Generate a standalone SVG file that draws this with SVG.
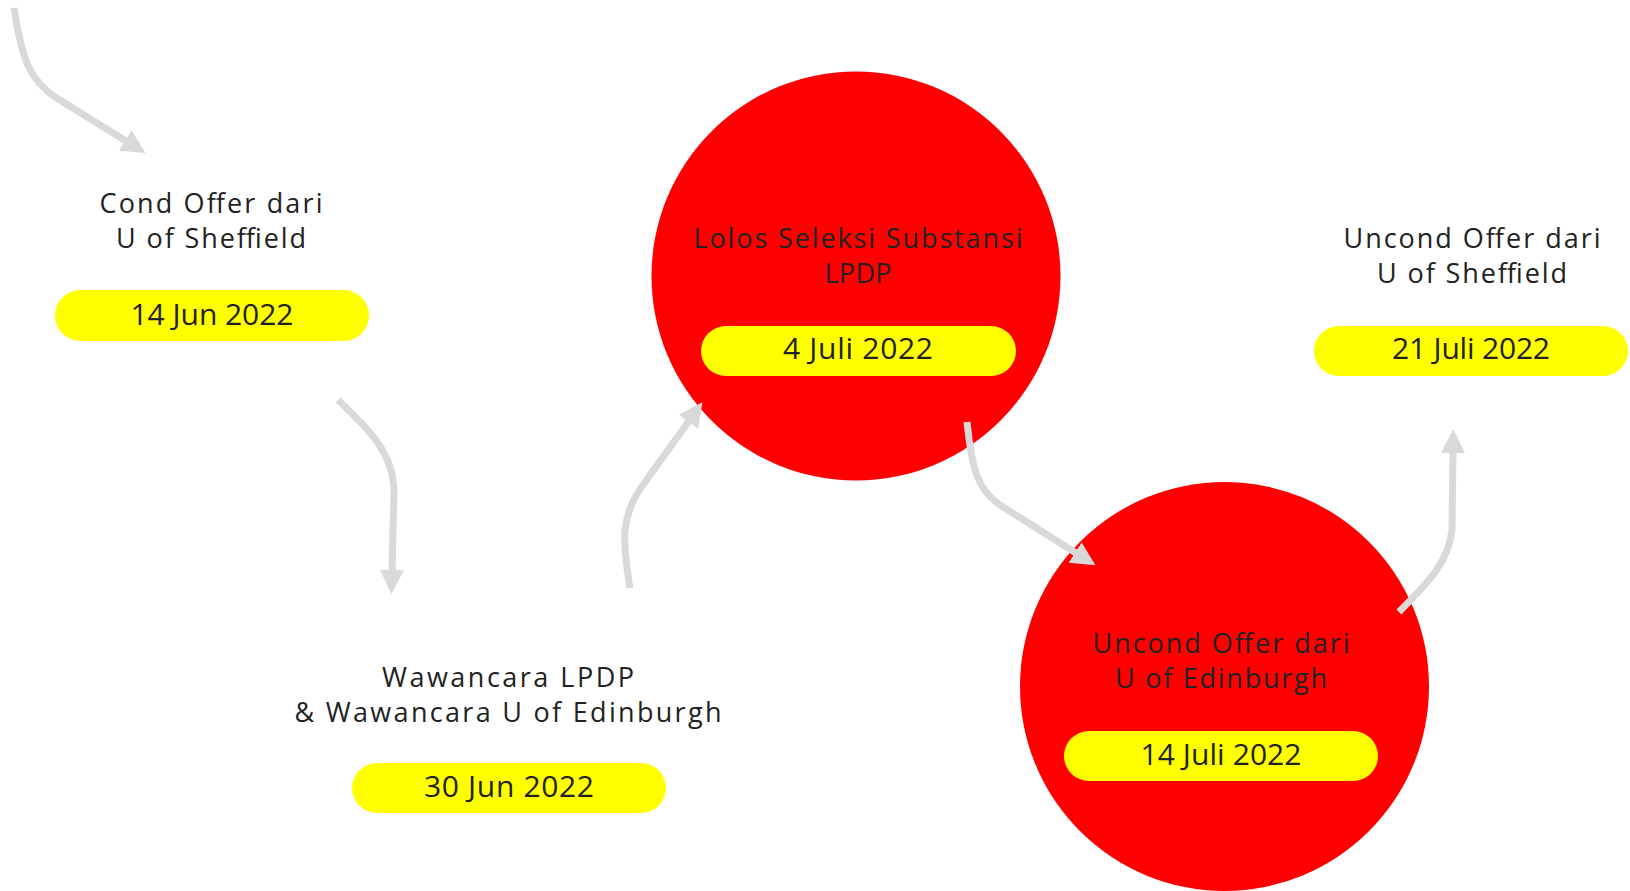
<svg xmlns="http://www.w3.org/2000/svg" width="1630" height="891" viewBox="0 0 1630 891">
  <style>
    .lbl { font-family: "Open Sans", "Liberation Sans", sans-serif; font-size: 27px; fill: #222222; text-anchor: middle; }
    .date { font-family: "Open Sans", "Liberation Sans", sans-serif; font-size: 30px; fill: #222222; text-anchor: middle; }
    .pill { fill: #ffff00; }
    .disc { fill: #ff0000; }
    .conn { fill: none; stroke: #d9d9d9; stroke-width: 7; marker-end: url(#arrow); }
  </style>
  <defs>
    <marker id="arrow" viewBox="0 0 24 24" markerWidth="24" markerHeight="24" refX="1" refY="12" orient="auto" markerUnits="userSpaceOnUse">
      <path d="M0,0 L24,12 L0,24 z" fill="#d9d9d9"/>
    </marker>
  </defs>
  <rect width="1630" height="891" fill="#ffffff"/>

  <g id="node-cond-sheffield">
    <text class="lbl" x="211" y="213" textLength="223">Cond Offer dari</text>
    <text class="lbl" x="211" y="248" textLength="190">U of Sheffield</text>
    <rect class="pill" x="55" y="290" width="314" height="51" rx="25.5"/>
    <text class="date" x="212" y="325" textLength="163">14 Jun 2022</text>
  </g>

  <g id="node-wawancara">
    <text class="lbl" x="508" y="687" textLength="252">Wawancara LPDP</text>
    <text class="lbl" x="508" y="722" textLength="427">&amp; Wawancara U of Edinburgh</text>
    <rect class="pill" x="352" y="763" width="314" height="50" rx="25"/>
    <text class="date" x="509" y="797" textLength="170">30 Jun 2022</text>
  </g>

  <g id="node-lolos-lpdp">
    <circle class="disc" cx="856" cy="276" r="204.5"/>
    <text class="lbl" x="858" y="248" textLength="329">Lolos Seleksi Substansi</text>
    <text class="lbl" x="858" y="283" textLength="67">LPDP</text>
    <rect class="pill" x="701" y="326" width="315" height="50" rx="25"/>
    <text class="date" x="858" y="359" textLength="150">4 Juli 2022</text>
  </g>

  <g id="node-uncond-edinburgh">
    <circle class="disc" cx="1224.5" cy="686.5" r="204.5"/>
    <text class="lbl" x="1221" y="653" textLength="257">Uncond Offer dari</text>
    <text class="lbl" x="1221" y="688" textLength="212">U of Edinburgh</text>
    <rect class="pill" x="1064" y="731" width="314" height="50" rx="25"/>
    <text class="date" x="1221" y="765" textLength="161">14 Juli 2022</text>
  </g>

  <g id="node-uncond-sheffield">
    <text class="lbl" x="1472" y="248" textLength="257">Uncond Offer dari</text>
    <text class="lbl" x="1472" y="283" textLength="190">U of Sheffield</text>
    <rect class="pill" x="1314" y="326" width="314" height="50" rx="25"/>
    <text class="date" x="1471" y="359" textLength="158">21 Juli 2022</text>
  </g>

  <g id="connectors">
    <path class="conn" d="M14,8 C22,60 30,80 55,97 L126,141"/>
    <path class="conn" d="M338,400 C370,430 395,455 394,495 L392,571"/>
    <path class="conn" d="M630,588 C622,540 620,515 645,482 L689,421"/>
    <path class="conn" d="M967,422 C972,470 978,490 1000,505 L1076,553"/>
    <path class="conn" d="M1399,612 C1425,585 1448,565 1452,530 L1453,452"/>
  </g>
</svg>
